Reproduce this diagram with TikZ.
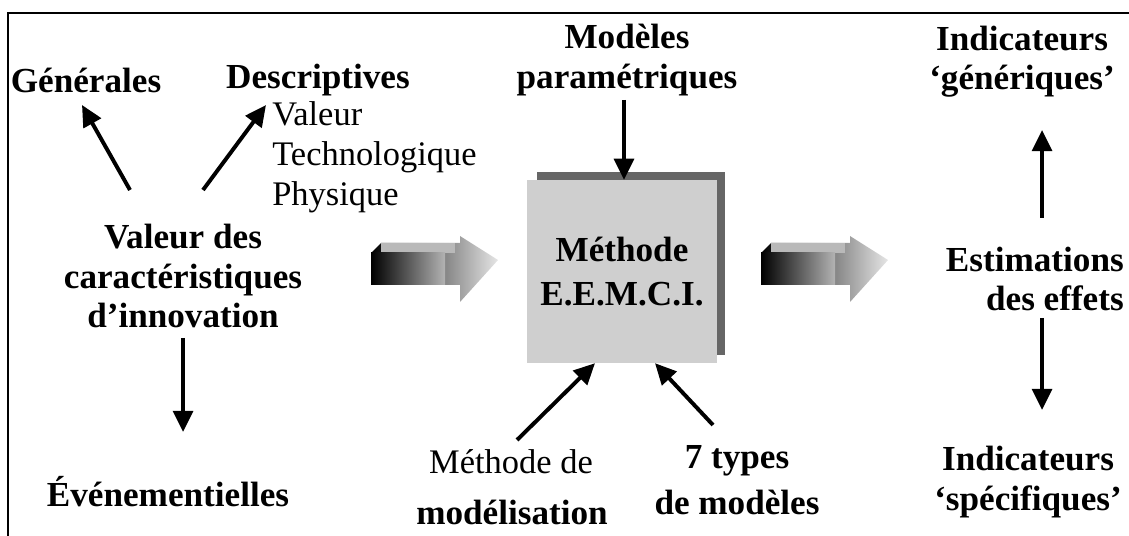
\documentclass[tikz,border=0pt]{standalone}
\usepackage{fontspec}
\setmainfont{Liberation Serif}
\usetikzlibrary{arrows.meta,calc}
\tikzset{
  titre/.style={font=\bfseries\fontsize{25}{28}\selectfont, align=center, inner sep=0pt},
  texte/.style={font=\fontsize{24.5}{28.3}\selectfont, inner sep=0pt},
  fleche/.style={line width=2.8pt, -{Triangle[length=15pt,width=14pt]}},
  boite/.style={fill=gray!38, minimum width=135pt, minimum height=130pt, inner sep=0pt,
                font=\bfseries\fontsize{25}{31}\selectfont, align=center}
}
\begin{document}
\begin{tikzpicture}[x=0.025cm, y=-0.025cm]
    \useasboundingbox (0,0) rectangle (1129,536);
    \draw[line width=2pt] (8,536) -- (8,13) -- (1129,13); % frame

    % left part
    \node[titre] (gen) at (86,80) {Générales};
    \node[titre] (desc) at (318,80) {Descriptives};
    \node[texte, anchor=west, align=left] (valeurs) at (272,157) {Valeur\\Technologique\\Physique};
    \node[titre] (carac) at (183,276) {Valeur des\\caractéristiques\\d’innovation};
    \node[titre] (even) at (168,492) {Événementielles};
    \coordinate (g1) at (130,190); \coordinate (g2) at (82,105);
    \coordinate (d1) at (203,190); \coordinate (d2) at (266,105);
    \coordinate (e1) at (183,338); \coordinate (e2) at (183,432);
    \draw[fleche] (g1) -- (g2); % to Generales
    \draw[fleche] (d1) -- (d2); % to Descriptives
    \draw[fleche] (e1) -- (e2); % to Evenementielles

    % block arrows
    \foreach \dx in {0,390}{
      \begin{scope}[shift={(\dx,0)}]
        \shade[left color=black, right color=gray!20] (371,253) -- (381,243) -- (460,243) -- (460,236)
              -- (498,260) -- (460,302) -- (460,285) -- (371,285) -- cycle;
        \fill[gray!55] (381,243) rectangle (455,253);
        \shade[left color=black, right color=gray!60] (371,253) rectangle (445,285);
      \end{scope}
    }

    % central box
    \fill[gray!80!black] (537,172) rectangle (725,355); % shadow
    \node[boite] (emcci) at (622,271.5) {Méthode\\E.E.M.C.I.};
    \node[titre] (modeles) at (627,60) {Modèles\\paramétriques};
    \node[texte] (methde) at (511,462) {Méthode de};
    \node[titre] (modelis) at (512,512) {modélisation};
    \node[titre, font=\bfseries\fontsize{25}{32.7}\selectfont] (types) at (737,480) {7 types\\de modèles};
    \coordinate (m1) at (624,100);
    \coordinate (t1) at (517,440); \coordinate (t2) at (713,425);
    \draw[fleche] (m1) -- (m1 |- emcci.north); % parametric models
    \draw[fleche] (t1) -- ($(emcci.south)+(-27,0)$); % modelling method
    \draw[fleche] (t2) -- ($(emcci.south)+(33,0)$); % 7 types

    % right part
    \node[titre] (indg) at (1022,62) {Indicateurs\\‘génériques’};
    \node[titre, align=right, anchor=east] (estim) at (1124,279) {Estimations\\des effets};
    \node[titre] (inds) at (1028,482) {Indicateurs\\‘spécifiques’};
    \coordinate (i1) at (1042,218); \coordinate (i2) at (1042,130);
    \coordinate (s1) at (1042,318); \coordinate (s2) at (1042,410);
    \draw[fleche] (i1) -- (i2); % to generic indicators
    \draw[fleche] (s1) -- (s2); % to specific indicators
\end{tikzpicture}
\end{document}
